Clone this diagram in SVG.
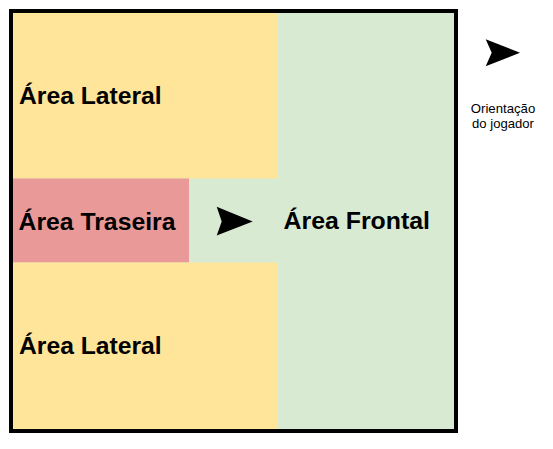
<svg xmlns="http://www.w3.org/2000/svg" width="553" height="449" viewBox="0 0 553 449">
<style>
.big{font-family:"Liberation Sans",Arial,sans-serif;font-weight:bold;font-size:23.5px;fill:#000}
.small{font-family:"Liberation Sans",Arial,sans-serif;font-size:13.5px;fill:#000;text-anchor:middle}
</style>
<rect width="553" height="449" fill="#ffffff"/>
<g id="area-frontal">
<rect x="13" y="13" width="441" height="416" fill="#d9ead3"/>
<text class="big" x="283.5" y="228.5" textLength="146.5" lengthAdjust="spacingAndGlyphs">Área Frontal</text>
</g>
<g id="area-lateral-top">
<rect x="13" y="13" width="265" height="165.5" fill="#ffe599"/>
<text class="big" x="19" y="103.8" textLength="142.7" lengthAdjust="spacingAndGlyphs">Área Lateral</text>
</g>
<g id="area-traseira">
<rect x="13" y="178.5" width="176" height="84" fill="#ea9999"/>
<text class="big" x="18.5" y="229.5" textLength="157" lengthAdjust="spacingAndGlyphs">Área Traseira</text>
</g>
<g id="area-lateral-bottom">
<rect x="13" y="262.5" width="265" height="166.5" fill="#ffe599"/>
<text class="big" x="19" y="354.3" textLength="142.7" lengthAdjust="spacingAndGlyphs">Área Lateral</text>
</g>
<g id="border">
<rect x="11" y="11" width="445" height="420" fill="none" stroke="#000" stroke-width="4"/>
</g>
<g id="arrow-center">
<path d="M216.7,206.7 L252.7,221.5 L216.7,235.5 L221.7,221.5 Z" fill="#000"/>
</g>
<g id="legend">
<path d="M485.7,39.3 L520,52.7 L485.7,66.3 L491.7,52.7 Z" fill="#000"/>
<text class="small" x="503" y="113.3" textLength="64.5" lengthAdjust="spacingAndGlyphs">Orientação</text>
<text class="small" x="503" y="127.7" textLength="62" lengthAdjust="spacingAndGlyphs">do jogador</text>
</g>
</svg>
